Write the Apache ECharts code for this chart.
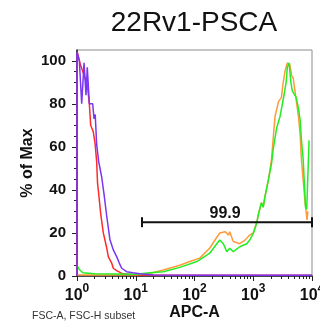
<!DOCTYPE html>
<html>
<head>
<meta charset="utf-8">
<script src="https://cdn.jsdelivr.net/npm/echarts@6/dist/echarts.min.js"></script>
<style>
  html, body { margin: 0; padding: 0; background: #fff; }
  #chart { width: 320px; height: 322px; }
</style>
</head>
<body>
<div id="chart"></div>
<script>
// x values are in decades (log10 of APC-A), y in % of Max
const titleText = '22Rv1-PSCA';
const subsetText = 'FSC-A, FSC-H subset';
const xDecades = [0, 1, 2, 3, 4];
const yTicks = [0, 20, 40, 60, 80, 100];

const redCurve = [[0,0],[0.005,104],[0.06,98],[0.136,92],[0.175,89],[0.21,80],[0.233,70],[0.277,67],[0.306,62],[0.335,53],[0.35,43],[0.37,38],[0.403,29],[0.448,20],[0.506,13],[0.533,9],[0.59,6],[0.618,3.6],[0.675,2.5],[0.78,1],[1,0.5],[2,0.3],[4,0.3]];
const purpleCurve = [[0,0],[0,104],[0.04,100],[0.08,80],[0.12,99],[0.153,84],[0.175,97],[0.19,90],[0.21,80],[0.267,80],[0.29,73],[0.31,75],[0.335,61],[0.37,53],[0.42,46],[0.46,38],[0.505,28],[0.56,17],[0.62,12],[0.675,9],[0.72,6],[0.76,3.6],[0.845,2],[0.95,1.5],[1.07,1],[1.3,0.5],[2,0.4],[3,0.4],[4,0.4]];
const orangeCurve = [[0,0.5],[0.5,0.5],[1,0.6],[1.24,1.2],[1.47,2.8],[1.75,5],[1.92,6.7],[2.09,8.3],[2.26,13],[2.38,18],[2.43,20],[2.52,20.6],[2.58,19],[2.6,20.6],[2.66,16],[2.77,15],[2.86,16.7],[2.94,19],[3.0,20],[3.06,25],[3.09,29],[3.14,34],[3.17,32],[3.2,37],[3.26,45],[3.31,54],[3.37,74],[3.43,81],[3.48,83],[3.51,90],[3.54,95],[3.58,99],[3.625,98],[3.655,93],[3.68,92],[3.71,86],[3.74,80],[3.77,74],[3.8,65],[3.82,54],[3.88,35],[3.915,26],[3.93,30]];
const greenCurve = [[0,5],[0.04,3],[0.1,1.5],[0.3,1],[1,0.8],[1.24,1.5],[1.47,2],[1.75,4],[2.04,6.7],[2.26,10.6],[2.38,15],[2.43,16.7],[2.49,15],[2.55,11.3],[2.6,12.9],[2.66,11.3],[2.77,13.6],[2.89,15],[2.94,16.7],[3.0,19.8],[3.06,24.6],[3.09,29],[3.14,34],[3.17,32],[3.2,37],[3.26,45],[3.31,52],[3.34,59],[3.4,69],[3.455,74],[3.51,82],[3.56,90],[3.58,97],[3.61,99],[3.64,90],[3.665,86],[3.69,86.5],[3.73,83],[3.77,78],[3.8,72],[3.82,63],[3.85,54],[3.89,32],[3.91,31],[3.95,63]];

// marker gate
const gateRange = [1.106, 4];
const gateLevel = 25;
const gateLabel = '99.9';
const gateLabelPos = [2.52, 25];

const font = "Arial, 'Liberation Sans', sans-serif";

// minor log ticks (2..9 in each decade) and minor y ticks every 5
const xMinor = [];
for (let d = 0; d < 4; d++) {
    for (let m = 2; m <= 9; m++) xMinor.push(d + Math.log10(m));
}
const yMinor = [];
for (let v = 5; v < 100; v += 5) if (v % 20 !== 0) yMinor.push(v);

const chart = echarts.init(document.getElementById('chart'));

const lineSeries = (name, data, color) => ({
    name,
    type: 'line',
    data,
    showSymbol: false,
    symbol: 'none',
    smooth: false,
    lineStyle: { color, width: 1.5 },
    xAxisIndex: 0,
    yAxisIndex: 0,
    animation: false
});

const option = {
    animation: false,
    title: {
        text: titleText,
        left: 189,
        top: 4,
        textAlign: 'center',
        textStyle: { fontFamily: font, fontSize: 28, fontWeight: 'normal', color: '#111' }
    },
    grid: {
        left: 77,
        right: 8,
        top: 50,
        bottom: 46,
        outerBoundsMode: 'none',
        containLabel: false,
        show: true,
        borderColor: '#8c8c8c',
        borderWidth: 1
    },
    xAxis: [
        {
            type: 'value',
            min: 0,
            max: 4,
            interval: 1,
            name: 'APC-A',
            nameLocation: 'middle',
            nameGap: 29,
            nameMoveOverlap: false,
            nameTextStyle: { fontFamily: font, fontSize: 16, fontWeight: 'bold', color: '#111' },
            axisLine: { show: true, lineStyle: { color: '#222', width: 1.5 } },
            axisTick: { show: true, length: 5, customValues: xDecades, lineStyle: { color: '#222' } },
            splitLine: { show: false },
            axisLabel: {
                margin: 7,
                customValues: xDecades,
                formatter: v => '{b|10}{s|' + v + '}',
                rich: {
                    b: { fontFamily: font, fontSize: 16, fontWeight: 'bold', color: '#111', lineHeight: 21, verticalAlign: 'bottom' },
                    s: { fontFamily: font, fontSize: 12, fontWeight: 'bold', color: '#111', lineHeight: 12, verticalAlign: 'top' }
                }
            }
        },
        {
            type: 'value',
            min: 0,
            max: 4,
            position: 'bottom',
            axisLine: { show: false },
            axisTick: { show: true, length: 3, customValues: xMinor, lineStyle: { color: '#222' } },
            axisLabel: { show: false },
            splitLine: { show: false }
        }
    ],
    yAxis: [
        {
            type: 'value',
            min: 0,
            max: 105,
            name: '% of Max',
            nameLocation: 'middle',
            nameGap: 41,
            nameMoveOverlap: false,
            nameRotate: 90,
            nameTextStyle: { fontFamily: font, fontSize: 16, fontWeight: 'bold', color: '#111' },
            axisLine: { show: true, lineStyle: { color: '#222', width: 1.5 } },
            axisTick: { show: true, length: 5, customValues: yTicks, lineStyle: { color: '#222' } },
            splitLine: { show: false },
            axisLabel: {
                margin: 11,
                customValues: yTicks,
                fontFamily: font,
                fontSize: 15,
                fontWeight: 'bold',
                color: '#111'
            }
        },
        {
            type: 'value',
            min: 0,
            max: 105,
            position: 'left',
            axisLine: { show: false },
            axisTick: { show: true, length: 3, customValues: yMinor, lineStyle: { color: '#222' } },
            axisLabel: { show: false },
            splitLine: { show: false }
        }
    ],
    graphic: [
        {
            type: 'text',
            left: 32,
            top: 311,
            style: { text: subsetText, font: '10.5px ' + font, fill: '#333' }
        }
    ],
    series: [
        lineSeries('red', redCurve, '#ff2a2a'),
        lineSeries('orange', orangeCurve, '#ff9a3c'),
        lineSeries('green', greenCurve, '#22ee22'),
        lineSeries('purple', purpleCurve, '#7a36f5'),
        {
            name: 'gate',
            type: 'line',
            data: [[gateRange[0], gateLevel], [gateRange[1], gateLevel]],
            symbol: 'rect',
            symbolSize: [2, 10],
            showSymbol: true,
            itemStyle: { color: '#111' },
            lineStyle: { color: '#111', width: 2 },
            z: 5,
            animation: false
        },
        {
            name: 'gateLabel',
            type: 'scatter',
            data: [gateLabelPos],
            symbolSize: 0,
            itemStyle: { opacity: 1 },
            label: {
                show: true,
                position: 'top',
                distance: 1,
                formatter: gateLabel,
                fontFamily: font,
                fontSize: 16,
                fontWeight: 'bold',
                color: '#111',
                opacity: 1
            },
            z: 5,
            animation: false
        }
    ]
};

chart.setOption(option);
</script>
</body>
</html>
